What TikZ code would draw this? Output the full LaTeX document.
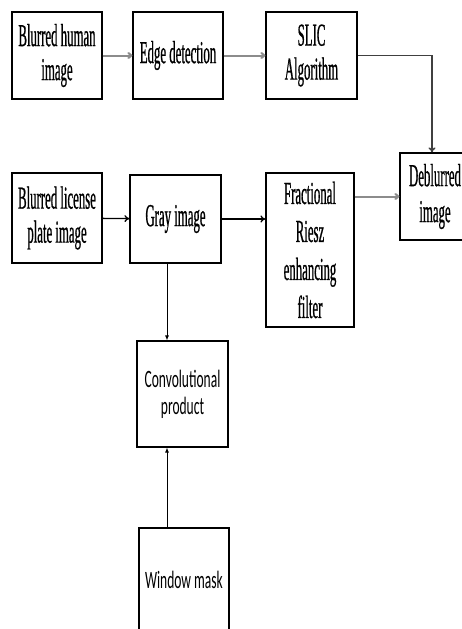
\documentclass[tikz,border=0pt]{standalone}
\usepackage{fontspec}
\setmainfont{Liberation Serif}
\newfontfamily\narrowserif[FakeStretch=0.40,FakeBold=0.6]{Liberation Serif}
\newfontfamily\narrowsans[FakeStretch=0.54]{Carlito}
\usetikzlibrary{arrows.meta}

\tikzset{
    box/.style={draw, line width=1.2pt, align=center, inner sep=0pt,
        font=\narrowserif\fontsize{32}{34}\selectfont},
    sansbox/.style={box, font=\narrowsans\fontsize{25}{27}\selectfont},
    arr/.style={-{To[length=5pt,width=7pt]}, line width=1.3pt},
    grayarr/.style={arr, draw=black!45, line width=2pt},
    thinarr/.style={-{Latex[length=5pt,width=4pt]}, line width=0.8pt}
}

\begin{document}
\begin{tikzpicture}[x=1pt,y=-1pt]
    \useasboundingbox (0,0) rectangle (461,629);
    % top row
    \node[box, minimum width=90pt, minimum height=87pt] (human) at (57,55.5) {Blurred human\\image};
    \node[box, minimum width=90pt, minimum height=87pt] (edge) at (178,55.5) {Edge detection};
    \node[box, minimum width=91pt, minimum height=87pt] (slic) at (311.5,55.5) {SLIC\\Algorithm};
    % second row
    \node[box, minimum width=90pt, minimum height=90pt] (plate) at (57,218) {Blurred license\\plate image};
    \node[box, minimum width=91pt, minimum height=88pt] (gray) at (175.5,219) {Gray image};
    \node[box, minimum width=88pt, minimum height=154pt, font=\narrowserif\fontsize{32}{38}\selectfont] (riesz) at (310,250) {Fractional\\Riesz\\enhancing\\filter};
    \node[box, minimum width=70pt, minimum height=87pt, font=\narrowserif\fontsize{32}{36}\selectfont] (deblur) at (435,196.5) {Deblurred\\image};
    % lower column
    \node[sansbox, minimum width=91pt, minimum height=106pt] (conv) at (182.5,394) {Convolutional\\product};
    \node[sansbox, minimum width=90pt, minimum height=104pt] (mask) at (184,580) {Window mask};

    \draw[grayarr] (human) -- (edge);
    \draw[grayarr] (edge) -- (slic);
    \draw[arr, draw=black!75, line width=1.6pt] (slic.east) -| ([xshift=-3pt]deblur.north);
    \draw[arr] (plate) -- (gray);
    \draw[arr] (gray) -- (riesz.west |- gray.east);
    \draw[grayarr] (riesz.east |- deblur.west) -- (deblur.west);
    \draw[thinarr] ([xshift=-8.5pt]gray.south) -- ([xshift=-15.5pt]conv.north);
    \draw[thinarr] ([xshift=-17pt]mask.north) -- ([xshift=-15.5pt]conv.south);
\end{tikzpicture}
\end{document}
